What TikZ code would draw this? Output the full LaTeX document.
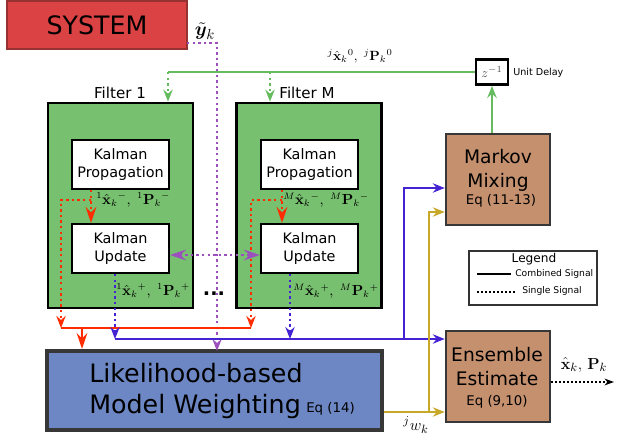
\documentclass[tikz,border=0pt]{standalone}
\usepackage{amsmath}
\usepackage{bm}
\usepackage[no-math]{fontspec}
\setmainfont{DejaVu Sans}
\usetikzlibrary{arrows.meta,calc}
\definecolor{sysred}{RGB}{219,66,68}
\definecolor{sysedge}{RGB}{150,50,50}
\definecolor{filtgreen}{RGB}{119,192,111}
\definecolor{lgreen}{RGB}{102,187,95}
\definecolor{rred}{RGB}{255,45,0}
\definecolor{bblue}{RGB}{70,35,210}
\definecolor{ppurple}{RGB}{155,80,190}
\definecolor{ggold}{RGB}{200,168,40}
\definecolor{mixbrown}{RGB}{196,144,110}
\definecolor{likblue}{RGB}{108,135,196}
\definecolor{darkedge}{RGB}{55,55,55}
\tikzset{
  filt/.style={draw=black, line width=2pt, fill=filtgreen, minimum width=108.75pt, minimum height=153.75pt, inner sep=0pt},
  kbox/.style={draw=black, line width=1.5pt, fill=white, minimum width=72.75pt, minimum height=36.75pt, inner sep=0pt, align=center, font=\fontsize{10.8}{13.5}\selectfont},
  bbox/.style={draw=darkedge, line width=1.8pt, fill=mixbrown, minimum width=78pt, minimum height=68.25pt, inner sep=0pt},
  btext/.style={align=center, font=\fontsize{14}{18}\selectfont, inner sep=0pt},
  eqtext/.style={font=\fontsize{10}{12}\selectfont, inner sep=0pt},
  flabel/.style={font=\fontsize{11.3}{13}\selectfont, inner sep=0pt},
  mlabel/.style={font=\fontsize{10.6}{13}\selectfont, inner sep=0pt, anchor=west},
  tip/.style={-{Stealth[length=12pt,width=8pt,inset=4pt]}},
  stip/.style={-{Stealth[length=9pt,width=7pt,inset=3pt]}},
  dots/.style={line width=1.8pt, dash pattern=on 1.8pt off 2.4pt},
  solidc/.style={line width=1.5pt},
}
\begin{document}
\begin{tikzpicture}[x=0.75pt,y=-0.75pt]
\useasboundingbox (0,0) rectangle (621,439);

% main blocks
\node[draw=sysedge, line width=1pt, fill=sysred, minimum width=135pt, minimum height=36pt, inner sep=0pt, font=\fontsize{19}{22}\selectfont] (sys) at (97,25) {SYSTEM};
\node[inner sep=0pt, font=\fontsize{15}{17}\selectfont] (yl) at (205,31) {$\tilde{\bm{y}}_k$};

\node[filt] (f1) at (120.5,205.5) {};
\node[filt] (fM) at (309,205.5) {};
\node[flabel] (f1l) at (120,92.5) {Filter 1};
\node[flabel] (fMl) at (307,92.5) {Filter M};

\node[kbox] (p1) at (120.5,164.5) {Kalman\\Propagation};
\node[kbox] (u1) at (120.5,248.5) {Kalman\\Update};
\node[kbox] (pM) at (309.5,164.5) {Kalman\\Propagation};
\node[kbox] (uM) at (309.5,248.5) {Kalman\\Update};

\node[draw=black, line width=2pt, fill=white, minimum width=24pt, minimum height=18.75pt, inner sep=0pt, text=black!70, font=\fontsize{10}{12}\selectfont] (zb) at (492,72) {$z^{-1}$};
\node[anchor=west, inner sep=0pt, font=\fontsize{7.2}{9}\selectfont] (ud) at (513,73) {Unit Delay};

\node[bbox] (mk) at (498,179.5) {};
\node[btext] (mkt) at (498,170) {Markov\\Mixing};
\node[eqtext] (mke) at (501,201) {Eq (11-13)};

\node[bbox] (en) at (498,376.5) {};
\node[btext] (ent) at (497,367) {Ensemble\\Estimate};
\node[eqtext] (ene) at (497,402) {Eq (9,10)};

\node[draw=darkedge, line width=3pt, fill=likblue, minimum width=251.25pt, minimum height=59.25pt, inner sep=0pt] (lk) at (214.5,390.5) {};
\node[anchor=base west, inner sep=0pt, font=\fontsize{19}{22}\selectfont] (lk1) at (89,382) {Likelihood-based};
\node[anchor=base west, inner sep=0pt, font=\fontsize{19}{22}\selectfont] (lk2) at (89,413) {Model Weighting};
\node[anchor=base west, inner sep=0pt, eqtext] (lke) at (306,412) {Eq (14)};

% legend
\node[draw=black!80, line width=1.5pt, fill=white, minimum width=96pt, minimum height=40.5pt, inner sep=0pt] (lg) at (533,278) {};
\node[inner sep=0pt, font=\fontsize{9.1}{11}\selectfont] (lgt) at (534,259) {Legend};
\coordinate (ls1) at (477,274);
\coordinate (ls2) at (511,274);
\coordinate (ld1) at (477,292);
\coordinate (ld2) at (515,292);
\draw[line width=1.2pt] (ls1) -- (ls2);
\draw[line width=1.2pt, dash pattern=on 1.2pt off 1.8pt] (ld1) -- (ld2);
\node[anchor=west, inner sep=0pt, font=\fontsize{6.9}{8}\selectfont] (lgc) at (515,274) {Combined Signal};
\node[anchor=west, inner sep=0pt, font=\fontsize{6.9}{8}\selectfont] (lgs) at (522,291) {Single Signal};

% math labels
\node[mlabel] (l1m) at (96,200) {${}^{1}\hat{\mathbf{x}}_k{}^{-},\;{}^{1}\mathbf{P}_k{}^{-}$};
\node[mlabel] (lMm) at (283,200) {${}^{M}\hat{\mathbf{x}}_k{}^{-},\;{}^{M}\mathbf{P}_k{}^{-}$};
\node[mlabel] (l1p) at (116,291) {${}^{1}\hat{\mathbf{x}}_k{}^{+},\;{}^{1}\mathbf{P}_k{}^{+}$};
\node[mlabel] (lMp) at (293,291) {${}^{M}\hat{\mathbf{x}}_k{}^{+},\;{}^{M}\mathbf{P}_k{}^{+}$};
\node[inner sep=0pt, font=\fontsize{9.8}{11}\selectfont] (l0) at (360,56) {${}^{j}\hat{\mathbf{x}}_k{}^{0},\ {}^{j}\mathbf{P}_k{}^{0}$};
\node[inner sep=0pt, font=\fontsize{13}{15}\selectfont] (lout) at (584,365) {$\hat{\mathbf{x}}_k,\,\mathbf{P}_k$};
\node[inner sep=0pt, font=\fontsize{13}{15}\selectfont] (lw) at (416,425) {${}^{j}w_k$};
\node[inner sep=0pt, font=\fontsize{14.5}{16}\bfseries] (ell) at (214,294) {...};

% coordinates
\coordinate (ya) at (187,43);
\coordinate (yb) at (217,351);
\coordinate (g1) at (168,0);
\coordinate (gM) at (270,0);
\coordinate (r1) at (91,0);
\coordinate (rM) at (282,0);
\coordinate (rbr) at (0,200);
\coordinate (rb1) at (61,328);
\coordinate (rbM) at (251,328);
\coordinate (rdown) at (82,328);
\coordinate (b1) at (115,339);
\coordinate (bM) at (290,339);
\coordinate (bup) at (404,339);
\coordinate (bmk) at (404,188);
\coordinate (gw) at (429,412);
\coordinate (gmk) at (429,212);
\coordinate (pm) at (0,255);
\coordinate (oend) at (614,382);

% SYSTEM output
\draw[ppurple, dots, stip] (ya) -| (yb);

% green feedback
\draw[lgreen, solidc] (zb.west) -| (g1 |- zb.west);
\draw[lgreen, dots, stip] (g1 |- zb.west) -- (g1 |- f1.north);
\draw[lgreen, dots, stip] (gM |- zb.west) -- (gM |- fM.north);
\draw[lgreen, solidc, stip] (zb |- mk.north) -- (zb.south);

% red paths
\draw[rred, dots, tip] (r1 |- p1.south) -- (r1 |- u1.north);
\draw[rred, dots, tip] (rM |- pM.south) -- (rM |- uM.north);
\draw[rred, dots, stip] (r1 |- rbr) -| (rb1);
\draw[rred, dots, stip] (rM |- rbr) -| (rbM);
\draw[rred, solidc] (rb1) -- (rbM);
\draw[rred, solidc, tip] (rdown) -- (rdown |- lk.north);

% purple between filters
\draw[ppurple, dots, {Stealth[length=12pt,width=8pt,inset=4pt]}-{Stealth[length=12pt,width=8pt,inset=4pt]}] (u1.east |- pm) -- (uM.west |- pm);

% blue paths
\draw[bblue, dots, stip] (b1 |- u1.south) -- (b1);
\draw[bblue, dots, stip] (bM |- uM.south) -- (bM);
\draw[bblue, solidc, stip] (b1) -- (en.west |- b1);
\draw[bblue, solidc, stip] (bup) -- (bmk) -- (mk.west |- bmk);

% gold paths
\draw[ggold, solidc, stip] (lk.east |- gw) -- (en.west |- gw);
\draw[ggold, solidc, stip] (gw) -- (gmk) -- (mk.west |- gmk);

% output
\draw[black, line width=1.2pt, dash pattern=on 1.5pt off 1.5pt, -{Stealth[length=7pt,width=5pt,inset=2pt]}] (en.east |- oend) -- (oend);
\end{tikzpicture}
\end{document}
